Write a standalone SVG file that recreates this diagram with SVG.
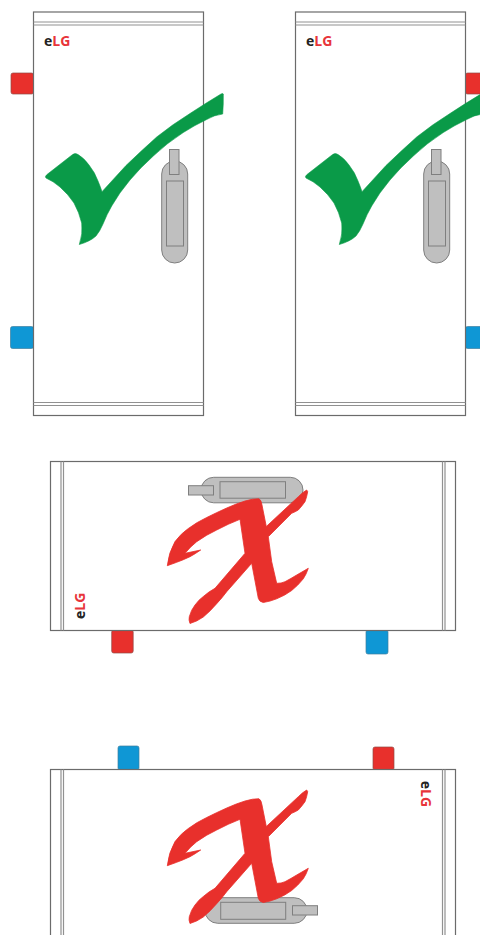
<svg xmlns="http://www.w3.org/2000/svg" width="480" height="935" viewBox="0 0 480 935">
<style>
.body{fill:#fff;stroke:#6b6b6b;stroke-width:1.2}
.rail{fill:none;stroke:#919191;stroke-width:1.2}
.red{fill:#e8302c;stroke:#8f4a46;stroke-width:.7}
.blue{fill:#0f97d5;stroke:#3f7f9f;stroke-width:.7}
.hnd{fill:#bfbfbf;stroke:#7f7f7f;stroke-width:1}
.ok{fill:#0a9a48;stroke:#0a9a48;stroke-width:.6;stroke-linejoin:round}
.no{fill:#e8302c;stroke:#e8302c;stroke-width:.8;stroke-linejoin:round}
.logo{font-family:"Open Sans",sans-serif;font-weight:700;font-size:14px;fill:#222}
.logo tspan{fill:#e8343a}
</style>
<defs>
<path id="check" d="M223.300 94Q223.500 104 222.700 114Q214 115 206.700 119.500Q195 125 183.300 132.500Q167 143 153.300 156Q140 168 130 180Q119 193 111.700 206Q107 214 103 224Q100 231 96 236Q90 241.500 79.300 244.500Q83 234 81.700 223Q79 212 74 203Q68 194 60 187Q53 181 46 178Q44.500 176.500 47 174.500L72 155Q75 152.500 78 154.500Q84 158 89 165Q95 172.500 98 181Q100.500 187 102 191.700L126 165.500Q141 151 156.700 137Q173 124 190 113.500Q206 103 221 94Q223 93 223.300 94Z"/>
<path id="cross" d="M167.300 565.700Q168.500 553 175 541.600Q181 533.500 188.300 528.500Q197 522 206.700 517.500Q216.700 512.500 226.700 508Q236.700 503.500 245 501Q253.300 498.500 259 498.800Q261.300 500 262 505L266.300 526.500L298.300 496.700Q303 492 306.700 490L307.700 491.700Q306.800 497 305 501.700Q302 506 298.300 510Q295 512 291.700 513.300L268.300 536.700L271.700 561.700L276.700 583.300Q281 583.500 285 581.700Q291 578.500 296.700 575L308.300 568.300Q306.500 574 303.300 578.800Q298 585.500 291.700 590.500Q285 595.500 276.700 598.800Q270 601.500 263.300 602.500Q259.500 602 258.300 598.300L251.700 563.300L226.700 591.700Q222 598 216.700 603.700Q210 611.500 203.300 617Q197 621.500 190 623.500Q188.500 620 189.300 616.700Q191 610 195 605Q199 599.500 203.300 596.500Q209 591.500 215 588.300L245 553.300L240 519.300Q228 524 216.700 530Q206 535 196.700 541.700Q190 547 185 553.300L200.700 550Q195 554 190 556.700Q183 560 176.700 562.300Z"/>
</defs>
<g id="cabinet-1">
<rect class="red" x="11" y="73" width="22.500" height="21" rx="2"/>
<rect class="blue" x="10.500" y="326.500" width="23" height="22" rx="2"/>
<rect class="body" x="33.500" y="12" width="170" height="403.500"/>
<path class="rail" d="M33.500 22H203.500M33.500 25H203.500M33.500 402.500H203.500M33.500 405.500H203.500"/>
<text class="logo" x="44" y="46">e<tspan>LG</tspan></text>
<rect class="hnd" x="161.700" y="161" width="26" height="102" rx="13"/>
<rect class="hnd" x="166.500" y="181" width="17" height="65"/>
<rect class="hnd" x="169.500" y="149.500" width="9.500" height="25"/>
<use href="#check" class="ok"/>
</g>
<g id="cabinet-2">
<rect class="red" x="465.500" y="73" width="22" height="21" rx="2"/>
<rect class="blue" x="465.500" y="326.500" width="23" height="22" rx="2"/>
<rect class="body" x="295.500" y="12" width="170" height="403.500"/>
<path class="rail" d="M295.500 22H465.500M295.500 25H465.500M295.500 402.500H465.500M295.500 405.500H465.500"/>
<text class="logo" x="306" y="46">e<tspan>LG</tspan></text>
<rect class="hnd" x="423.700" y="161" width="26" height="102" rx="13"/>
<rect class="hnd" x="428.500" y="181" width="17" height="65"/>
<rect class="hnd" x="431.500" y="149.500" width="9.500" height="25"/>
<use href="#check" class="ok" x="260"/>
</g>
<g id="cabinet-3">
<rect class="red" x="111.700" y="630" width="21.500" height="23" rx="2"/>
<rect class="blue" x="366" y="630" width="22" height="24" rx="2"/>
<rect class="body" x="50.500" y="461.500" width="405" height="169"/>
<path class="rail" d="M61 461.500V630.500M63.500 461.500V630.500M442.500 461.500V630.500M445 461.500V630.500"/>
<text class="logo" transform="translate(84.500 619) rotate(-90)">e<tspan>LG</tspan></text>
<rect class="hnd" x="201" y="477.300" width="102" height="25.500" rx="12.700"/>
<rect class="hnd" x="220" y="481.700" width="65.500" height="16.500"/>
<rect class="hnd" x="188.500" y="485.700" width="25" height="9.300"/>
<use href="#cross" class="no"/>
</g>
<g id="cabinet-4">
<rect class="red" x="373" y="747" width="21" height="23" rx="2"/>
<rect class="blue" x="118" y="746" width="21" height="24" rx="2"/>
<rect class="body" x="50.500" y="769.500" width="405" height="175"/>
<path class="rail" d="M61 769.500V935M63.500 769.500V935M442.500 769.500V935M445 769.500V935"/>
<text class="logo" transform="translate(421 780.700) rotate(90)">e<tspan>LG</tspan></text>
<rect class="hnd" x="205" y="897.700" width="102" height="25.600" rx="12.800"/>
<rect class="hnd" x="220.700" y="902.300" width="65" height="17"/>
<rect class="hnd" x="292.500" y="905.700" width="25" height="9.300"/>
<use href="#cross" class="no" y="300"/>
</g>
<g id="connectors"></g>
</svg>
